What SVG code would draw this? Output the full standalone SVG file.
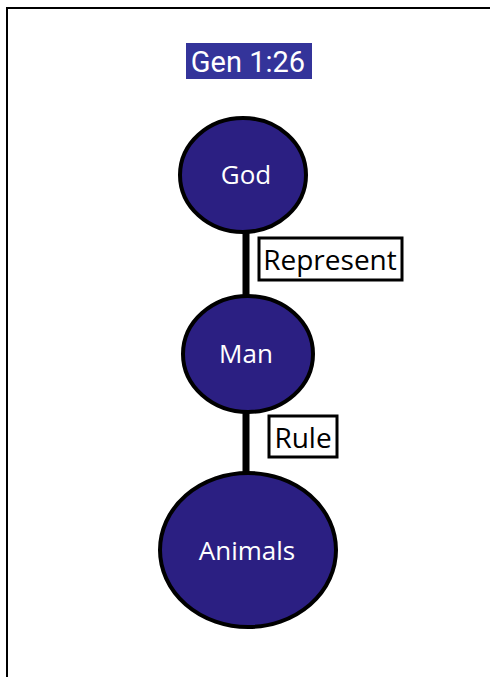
<svg xmlns="http://www.w3.org/2000/svg" width="490" height="677" viewBox="0 0 490 677">
  <style>
    .frame { fill: none; stroke: #000; stroke-width: 2; }
    .node ellipse { fill: #2b1f82; stroke: #000; stroke-width: 4; }
    .node text { fill: #fff; font-family: "Open Sans", "Liberation Sans", sans-serif; font-size: 26px; text-anchor: middle; dominant-baseline: central; }
    .link { stroke: #000; stroke-width: 7; }
    .label rect { fill: #fff; stroke: #000; stroke-width: 3; }
    .label text { fill: #000; font-family: "Open Sans", "Liberation Sans", sans-serif; font-size: 28px; text-anchor: middle; dominant-baseline: central; }
  </style>
  <rect width="490" height="677" fill="#fff"/>
  <!-- page frame, open at right and bottom -->
  <path class="frame" d="M7 677 V8 H490"/>

  <!-- title tag -->
  <g id="title">
    <rect x="186" y="43" width="126" height="36" fill="#34349a"/>
    <text x="248" y="62" fill="#fff" font-family="Roboto, 'Liberation Sans', sans-serif" font-size="29" text-anchor="middle" dominant-baseline="central">Gen 1:26</text>
  </g>

  <!-- connectors -->
  <g id="connectors">
    <line class="link" x1="246" y1="231" x2="246" y2="297"/>
    <line class="link" x1="246" y1="411" x2="246" y2="474"/>
  </g>

  <g id="god" class="node">
    <ellipse cx="243" cy="175" rx="63" ry="57"/>
    <text x="246" y="174">God</text>
  </g>
  <g id="man" class="node">
    <ellipse cx="248" cy="354" rx="65" ry="58"/>
    <text x="246" y="353">Man</text>
  </g>
  <g id="animals" class="node">
    <ellipse cx="248" cy="550" rx="88" ry="77"/>
    <text x="247" y="550">Animals</text>
  </g>

  <g id="label-represent" class="label">
    <rect x="259" y="238" width="143" height="42"/>
    <text x="330" y="259">Represent</text>
  </g>
  <g id="label-rule" class="label">
    <rect x="269" y="416" width="68" height="41"/>
    <text x="303" y="437">Rule</text>
  </g>
</svg>
